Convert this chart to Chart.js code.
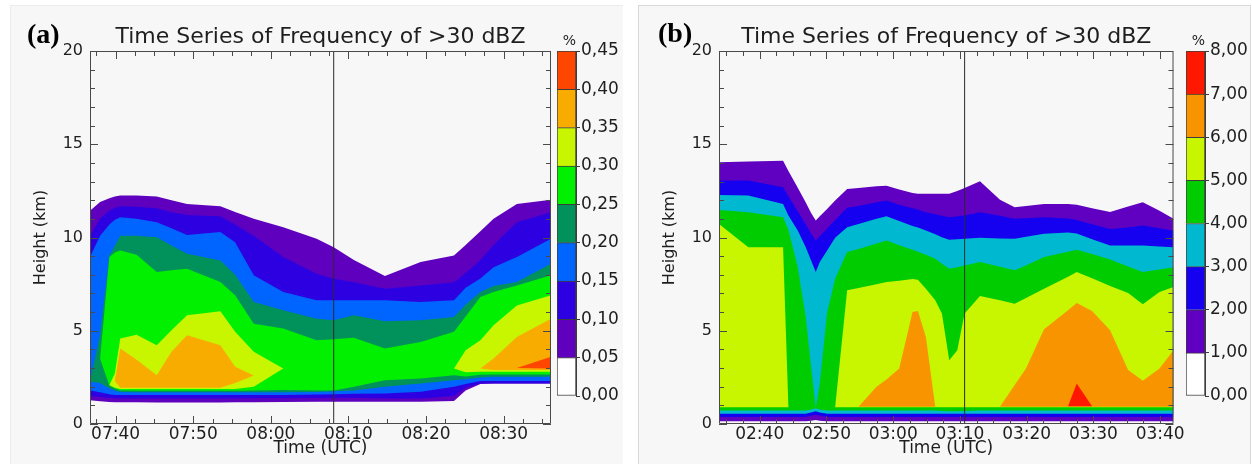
<!DOCTYPE html>
<html>
<head>
<meta charset="utf-8">
<script src="https://cdn.jsdelivr.net/npm/chart.js@4.4.1/dist/chart.umd.min.js"></script>
<style>
  body { margin: 0; width: 1252px; height: 464px; background: #fff; position: relative; overflow: hidden; }
  .panel { position: absolute; background: #f7f7f7; }
  #panelA { left: 10px; top: 5px; width: 612px; height: 459px; border-left: 1px solid #ececec; border-top: 1px solid #ececec; }
  #panelB { left: 638px; top: 5px; width: 611px; height: 459px; border: 1px solid #d9d9d9; border-bottom: none; }
  canvas { position: absolute; top: 0; }
  .tag { position: absolute; font: bold 28px "Liberation Serif", serif; line-height: 1; color: #000; }
</style>
</head>
<body>
<div class="panel" id="panelA"></div>
<div class="panel" id="panelB"></div>
<canvas id="mainA" width="556" height="464" style="left:0"></canvas>
<canvas id="barA" width="67" height="464" style="left:556px"></canvas>
<canvas id="mainB" width="556" height="464" style="left:629px"></canvas>
<canvas id="barB" width="67" height="464" style="left:1185px"></canvas>
<div class="tag" style="left:27px; top:20px">(a)</div>
<div class="tag" style="left:658px; top:19px">(b)</div>
<script>
// ---- panel (a): times in minutes after 07:00, heights in km, levels in %
const aTimes = [36.7, 38.0, 39.2, 39.9, 40.6, 42.7, 45.3, 47.2, 49.2, 53.5, 55.4, 57.8, 61.6, 65.9, 68.1, 70.7, 74.7, 79.3, 83.6, 85.1, 87.0, 88.7, 91.7, 96.1];
const aTickValues = [40, 50, 60, 70, 80, 90];
const aTickLabels = ['07:40', '07:50', '08:00', '08:10', '08:20', '08:30'];
const aMark = 68.1;
const aLevels = [0, 0.05, 0.10, 0.15, 0.20, 0.25, 0.30, 0.35, 0.40, 0.45];
const aColors = ['#ffffff', '#5f00be', '#2d00e1', '#0064ff', '#00925a', '#00f000', '#c8f500', '#f8ac00', '#ff4600'];

const aLo1 = [1.28, 1.22, 1.18, 1.16, 1.16, 1.16, 1.15, 1.15, 1.15, 1.15, 1.16, 1.16, 1.18, 1.19, 1.19, 1.19, 1.19, 1.19, 1.23, 1.8, 2.15, 2.17, 2.17, 2.17];
const aHi1 = [11.44, 11.9, 12.1, 12.2, 12.25, 12.25, 12.2, 12.0, 11.8, 11.68, 11.37, 11.0, 10.55, 9.93, 9.48, 8.8, 7.93, 8.68, 9.04, 9.6, 10.34, 11.0, 11.8, 12.03];
const aLo2 = [1.5, 1.45, 1.4, 1.38, 1.37, 1.37, 1.37, 1.37, 1.37, 1.37, 1.37, 1.38, 1.38, 1.4, 1.41, 1.4, 1.37, 1.37, 1.5, 1.95, 2.17, 2.17, 2.17, 2.17];
const aHi2 = [10.1, 11.0, 11.45, 11.6, 11.68, 11.65, 11.57, 11.35, 11.21, 11.14, 10.7, 10.1, 8.95, 8.06, 7.79, 7.6, 7.25, 7.43, 7.6, 8.1, 8.8, 9.6, 10.82, 11.35];
const aLo3 = [1.8, 1.7, 1.6, 1.56, 1.55, 1.55, 1.55, 1.55, 1.55, 1.55, 1.55, 1.55, 1.56, 1.58, 1.6, 1.62, 1.64, 1.73, 2.0, 2.15, 2.3, 2.3, 2.3, 2.3];
const aHi3 = [8.95, 10.1, 10.7, 10.95, 11.09, 11.0, 10.82, 10.5, 10.14, 10.29, 9.75, 7.97, 7.08, 6.63, 6.63, 6.63, 6.63, 6.54, 6.63, 7.3, 7.8, 8.4, 8.95, 9.93];
const aLo4 = [2.26, 2.2, 1.9, 1.8, 1.72, 1.7, 1.7, 1.7, 1.7, 1.7, 1.7, 1.7, 1.7, 1.72, 1.75, 1.8, 2.0, 2.17, 2.35, 2.4, 2.5, 2.53, 2.53, 2.53];
const aHi4 = [2.26, 4.78, 9.04, 9.54, 10.1, 10.1, 10.02, 9.57, 9.13, 8.77, 8.0, 6.54, 6.1, 5.65, 5.56, 5.83, 5.51, 5.56, 5.74, 6.4, 7.08, 7.4, 7.61, 8.59];
const aLo5 = [2.26, 3.5, 2.05, 1.9, 1.8, 1.78, 1.78, 1.78, 1.78, 1.78, 1.78, 1.8, 1.82, 1.8, 1.8, 2.0, 2.35, 2.44, 2.62, 2.55, 2.64, 2.66, 2.66, 2.66];
const aHi5 = [2.26, 3.5, 8.95, 9.2, 9.3, 9.07, 8.15, 8.24, 8.32, 7.61, 6.9, 5.38, 5.12, 4.49, 4.55, 4.62, 4.05, 4.4, 4.94, 5.76, 6.81, 7.08, 7.43, 7.97];
const aLo6 = [2.26, 3.5, 2.09, 1.95, 1.87, 1.87, 1.87, 1.87, 1.87, 1.87, 1.87, 2.0, 2.98, 2.98, 2.98, 2.98, 2.98, 2.98, 2.98, 2.78, 2.8, 2.8, 2.8, 2.8];
const aHi6 = [2.26, 3.5, 2.09, 2.71, 4.58, 4.78, 4.22, 5.03, 5.83, 6.04, 4.94, 3.87, 2.98, 2.98, 2.98, 2.98, 2.98, 2.98, 2.98, 3.96, 4.49, 5.3, 6.36, 6.9];
const aLo7 = [2.26, 3.5, 2.09, 2.3, 1.94, 1.94, 1.94, 1.94, 1.94, 1.94, 2.2, 2.6, 2.98, 2.98, 2.98, 2.98, 2.98, 2.98, 2.98, 2.98, 2.98, 2.89, 2.89, 2.89];
const aHi7 = [2.26, 3.5, 2.09, 2.3, 4.05, 3.44, 2.62, 3.87, 4.76, 4.22, 3.07, 2.6, 2.98, 2.98, 2.98, 2.98, 2.98, 2.98, 2.98, 2.98, 2.98, 3.51, 4.67, 5.65];
const aLo8 = [2.26, 3.5, 2.09, 2.3, 2.5, 2.5, 2.3, 2.5, 2.5, 2.5, 2.5, 2.6, 2.98, 2.98, 2.98, 2.98, 2.98, 2.98, 2.98, 2.98, 2.98, 2.98, 3.0, 2.98];
const aHi8 = [2.26, 3.5, 2.09, 2.3, 2.5, 2.5, 2.3, 2.5, 2.5, 2.5, 2.5, 2.6, 2.98, 2.98, 2.98, 2.98, 2.98, 2.98, 2.98, 2.98, 2.98, 2.98, 3.0, 3.6];

// ---- panel (b): times in minutes after 02:00
const bTimes = [33.9, 38.3, 43.5, 44.3, 45.7, 46.9, 47.7, 48.4, 49.0, 50.1, 51.3, 53.1, 54.8, 57.5, 59.0, 60.9, 62.9, 63.7, 64.9, 66.3, 67.3, 68.4, 69.6, 70.7, 73.0, 76.0, 78.2, 79.9, 82.6, 86.2, 87.5, 89.8, 92.5, 95.2, 97.4, 99.9, 102.0];
const bTickValues = [40, 50, 60, 70, 80, 90, 100];
const bTickLabels = ['02:40', '02:50', '03:00', '03:10', '03:20', '03:30', '03:40'];
const bMark = 70.7;
const bLevels = [0, 1, 2, 3, 4, 5, 6, 7, 8];
const bColors = ['#ffffff', '#6000c0', '#1500f0', '#00b8d0', '#00cc00', '#c8f500', '#f89400', '#ff1800'];

const bLo1 = [0.15, 0.15, 0.15, 0.15, 0.15, 0.15, 0.18, 0.22, 0.18, 0.15, 0.15, 0.15, 0.15, 0.15, 0.15, 0.15, 0.15, 0.15, 0.15, 0.15, 0.15, 0.15, 0.15, 0.15, 0.15, 0.15, 0.15, 0.15, 0.15, 0.15, 0.15, 0.15, 0.15, 0.15, 0.15, 0.15, 0.15];
const bHi1 = [14.03, 14.08, 14.12, 13.57, 12.67, 11.87, 11.32, 10.91, 11.14, 11.53, 11.98, 12.6, 12.66, 12.75, 12.78, 12.58, 12.39, 12.34, 12.34, 12.34, 12.34, 12.35, 12.5, 12.66, 13.01, 12.03, 11.62, 11.69, 11.8, 11.8, 11.76, 11.57, 11.37, 11.66, 11.89, 11.44, 11.0];
const bLo2 = [0.38, 0.38, 0.38, 0.38, 0.38, 0.38, 0.45, 0.5, 0.45, 0.38, 0.38, 0.38, 0.38, 0.38, 0.38, 0.38, 0.38, 0.38, 0.38, 0.38, 0.38, 0.38, 0.38, 0.38, 0.38, 0.38, 0.38, 0.38, 0.38, 0.38, 0.38, 0.38, 0.38, 0.38, 0.38, 0.38, 0.38];
const bHi2 = [13.05, 13.05, 12.69, 12.21, 11.41, 10.7, 10.21, 9.84, 10.07, 10.48, 10.94, 11.59, 11.69, 11.89, 11.98, 11.76, 11.57, 11.5, 11.35, 11.24, 11.16, 11.09, 11.14, 11.18, 11.35, 11.16, 11.0, 11.03, 11.09, 11.02, 10.94, 10.71, 10.46, 10.53, 10.64, 10.5, 10.37];
const bLo3 = [0.55, 0.55, 0.55, 0.55, 0.55, 0.55, 0.62, 0.68, 0.62, 0.55, 0.55, 0.55, 0.55, 0.55, 0.55, 0.55, 0.55, 0.55, 0.55, 0.55, 0.55, 0.55, 0.55, 0.55, 0.55, 0.55, 0.55, 0.55, 0.55, 0.55, 0.55, 0.55, 0.55, 0.55, 0.55, 0.55, 0.55];
const bHi3 = [12.28, 12.25, 11.8, 11.18, 10.37, 9.48, 8.77, 8.15, 8.68, 9.3, 9.98, 10.55, 10.73, 11.0, 11.14, 10.89, 10.62, 10.53, 10.37, 10.18, 10.02, 9.88, 9.91, 9.93, 9.98, 9.95, 9.93, 10.04, 10.2, 10.27, 10.21, 9.91, 9.57, 9.57, 9.57, 9.52, 9.48];
const bLo4 = [0.72, 0.72, 0.72, 0.72, 0.72, 0.72, 0.78, 0.85, 0.78, 0.72, 0.72, 0.72, 0.72, 0.72, 0.72, 0.72, 0.72, 0.72, 0.72, 0.72, 0.7, 0.68, 0.68, 0.7, 0.72, 0.72, 0.72, 0.72, 0.72, 0.72, 0.72, 0.72, 0.72, 0.72, 0.72, 0.72, 0.72];
const bHi4 = [11.48, 11.35, 11.09, 10.41, 8.41, 5.74, 3.07, 0.85, 2.17, 5.97, 7.79, 9.22, 9.39, 9.68, 9.84, 9.59, 9.34, 9.23, 9.07, 8.86, 8.59, 8.32, 8.41, 8.5, 8.68, 8.43, 8.24, 8.5, 8.95, 9.23, 9.34, 9.11, 8.82, 8.45, 8.15, 8.29, 8.41];
const bLo5 = [0.9, 0.9, 0.9, 0.9, 0.9, 0.9, 0.9, 0.9, 0.9, 0.9, 0.9, 0.9, 0.9, 0.9, 0.9, 0.9, 0.9, 0.9, 0.9, 0.9, 0.9, 0.9, 0.9, 0.9, 0.9, 0.9, 0.9, 0.9, 0.9, 0.9, 0.9, 0.9, 0.9, 0.9, 0.9, 0.9, 0.9];
const bHi5 = [10.73, 9.48, 9.48, 0.9, 0.9, 0.9, 0.9, 0.9, 0.9, 0.9, 0.9, 7.17, 7.29, 7.49, 7.61, 7.68, 7.77, 7.74, 7.25, 6.63, 5.92, 3.42, 3.96, 5.92, 6.86, 6.63, 6.45, 6.76, 7.25, 7.9, 8.15, 7.81, 7.4, 7.02, 6.42, 7.08, 7.34];
const bLo6 = [0.93, 0.93, 0.93, 0.93, 0.93, 0.93, 0.93, 0.93, 0.93, 0.93, 0.93, 0.93, 0.93, 0.93, 0.93, 0.93, 0.93, 0.93, 0.93, 0.93, 0.93, 0.93, 0.93, 0.93, 0.93, 0.93, 0.93, 0.93, 0.93, 0.93, 0.93, 0.93, 0.93, 0.93, 0.93, 0.93, 0.93];
const bHi6 = [0.93, 0.93, 0.93, 0.93, 0.93, 0.93, 0.93, 0.93, 0.93, 0.93, 0.93, 0.93, 0.93, 2.0, 2.39, 2.98, 6.0, 6.06, 4.67, 0.93, 0.93, 0.93, 0.93, 0.93, 0.93, 0.93, 2.09, 2.98, 5.08, 6.1, 6.49, 6.06, 5.03, 2.89, 2.32, 2.98, 3.96];
const bLo7 = [0.95, 0.95, 0.95, 0.95, 0.95, 0.95, 0.95, 0.95, 0.95, 0.95, 0.95, 0.95, 0.95, 0.95, 0.95, 0.95, 0.95, 0.95, 0.95, 0.95, 0.95, 0.95, 0.95, 0.95, 0.95, 0.95, 0.95, 0.95, 0.95, 0.95, 0.95, 0.95, 0.95, 0.95, 0.95, 0.95, 0.95];
const bHi7 = [0.95, 0.95, 0.95, 0.95, 0.95, 0.95, 0.95, 0.95, 0.95, 0.95, 0.95, 0.95, 0.95, 0.95, 0.95, 0.95, 0.95, 0.95, 0.95, 0.95, 0.95, 0.95, 0.95, 0.95, 0.95, 0.95, 0.95, 0.95, 0.95, 0.95, 2.17, 0.95, 0.95, 0.95, 0.95, 0.95, 0.95];

const FONT = 'DejaVu Sans';
const INK = '#1e1e1e';

// frame and inward ticks on all four sides, like the IDL plot
const frameTicks = {
  id: 'frameTicks',
  afterDatasetsDraw(chart) {
    const {ctx, chartArea: a, scales: {x, y}} = chart;
    ctx.save();
    ctx.strokeStyle = '#4a4a4a';
    ctx.lineWidth = 1;
    ctx.beginPath();
    ctx.rect(a.left + 0.5, a.top + 0.5, a.width - 1, a.height - 1);
    for (let v = Math.ceil(x.min / 2.5) * 2.5; v <= x.max; v += 2.5) {
      const p = Math.round(x.getPixelForValue(v)) + 0.5;
      const len = v % 10 === 0 ? 8 : 5;
      ctx.moveTo(p, a.bottom); ctx.lineTo(p, a.bottom - len);
      ctx.moveTo(p, a.top); ctx.lineTo(p, a.top + len);
    }
    for (let v = y.min; v <= y.max; v += 1) {
      const p = Math.round(y.getPixelForValue(v)) + 0.5;
      const len = v % 5 === 0 ? 8 : 5;
      ctx.moveTo(a.left, p); ctx.lineTo(a.left + len, p);
      ctx.moveTo(a.right, p); ctx.lineTo(a.right - len, p);
    }
    ctx.stroke();
    ctx.restore();
  }
};

function contourChart(id, times, bands, colors, mark, tickValues, tickLabels) {
  const datasets = [];
  bands.forEach(([lo, hi], k) => {
    const loIdx = datasets.length;
    datasets.push({ data: times.map((t, i) => ({x: t, y: lo[i]})), fill: false, order: 1 });
    datasets.push({
      data: times.map((t, i) => ({x: t, y: hi[i]})),
      fill: {target: loIdx}, backgroundColor: colors[k + 1], order: 50 - k
    });
  });
  datasets.push({ data: [{x: mark, y: 0}, {x: mark, y: 20}], borderColor: '#2a2a2a', borderWidth: 1, fill: false, order: 0 });

  const xmin = times[0], xmax = times[times.length - 1];
  new Chart(document.getElementById(id), {
    type: 'line',
    data: { datasets },
    plugins: [frameTicks],
    options: {
      responsive: false, animation: false, events: [],
      layout: { padding: {left: 0, right: 5, top: 0, bottom: 0} },
      elements: { point: {radius: 0}, line: {borderWidth: 0, borderColor: 'transparent', tension: 0} },
      plugins: { legend: {display: false}, tooltip: {enabled: false} },
      scales: {
        x: {
          type: 'linear', min: xmin, max: xmax, bounds: 'data',
          grid: {display: false, drawTicks: false}, border: {display: false},
          afterBuildTicks: s => { s.ticks = tickValues.map(v => ({value: v})); },
          afterFit: s => { s.height = 40; },
          ticks: { callback: (v, i) => tickLabels[i], padding: 0, autoSkip: false, maxRotation: 0,
                   color: INK, font: {family: FONT, size: 17} },
          title: { display: true, text: 'Time (UTC)', color: INK, font: {family: FONT, size: 17},
                   padding: {top: 0, bottom: 5} }
        },
        x2: {
          type: 'linear', position: 'top', min: xmin, max: xmax,
          grid: {display: false, drawTicks: false}, border: {display: false}, ticks: {display: false},
          afterFit: s => { s.height = 51; },
          title: { display: true, text: 'Time Series of Frequency of >30 dBZ', color: INK,
                   font: {family: FONT, size: 22}, padding: {top: 24, bottom: 0} }
        },
        y: {
          min: 0, max: 20,
          grid: {display: false, drawTicks: false}, border: {display: false},
          afterFit: s => { s.width = 90; },
          ticks: { stepSize: 5, padding: 7, color: INK, font: {family: FONT, size: 16} },
          title: { display: true, text: 'Height (km)', color: INK, font: {family: FONT, size: 16},
                   padding: {top: 31, bottom: 0} }
        }
      }
    }
  });
}

function colorBar(id, levels, colors) {
  const datasets = colors.map((c, i) => ({
    data: [[levels[i], levels[i + 1]]],
    backgroundColor: c, borderColor: '#3c3c3c', borderSkipped: false,
    borderWidth: {top: 1, left: 1, right: 1, bottom: i === 0 ? 1 : 0},
    barPercentage: 1, categoryPercentage: 1, grouped: false
  }));
  new Chart(document.getElementById(id), {
    type: 'bar',
    data: { labels: [''], datasets },
    options: {
      responsive: false, animation: false, events: [],
      layout: { padding: {left: 1, right: 0, top: 0, bottom: 68} },
      plugins: { legend: {display: false}, tooltip: {enabled: false} },
      scales: {
        x: { display: false },
        x2: {
          type: 'linear', position: 'top',
          grid: {display: false, drawTicks: false}, border: {display: false}, ticks: {display: false},
          afterFit: s => { s.height = 51; },
          title: { display: true, text: '%', align: 'end', color: INK, font: {family: FONT, size: 14},
                   padding: {top: 33, bottom: 0} }
        },
        y: {
          position: 'right', min: levels[0], max: levels[levels.length - 1],
          afterBuildTicks: s => { s.ticks = levels.map(v => ({value: v})); },
          afterFit: s => { s.width = 47; },
          grid: {display: true, drawOnChartArea: false, tickLength: 4, color: '#3c3c3c'},
          border: {display: true, color: '#3c3c3c'},
          ticks: { callback: v => v.toFixed(2).replace('.', ','), padding: 1, color: INK,
                   font: {family: FONT, size: 17} }
        }
      }
    }
  });
}

contourChart('mainA', aTimes,
  [[aLo1, aHi1], [aLo2, aHi2], [aLo3, aHi3], [aLo4, aHi4], [aLo5, aHi5], [aLo6, aHi6], [aLo7, aHi7], [aLo8, aHi8]],
  aColors, aMark, aTickValues, aTickLabels);
colorBar('barA', aLevels, aColors);

contourChart('mainB', bTimes,
  [[bLo1, bHi1], [bLo2, bHi2], [bLo3, bHi3], [bLo4, bHi4], [bLo5, bHi5], [bLo6, bHi6], [bLo7, bHi7]],
  bColors, bMark, bTickValues, bTickLabels);
colorBar('barB', bLevels, bColors);
</script>
</body>
</html>
